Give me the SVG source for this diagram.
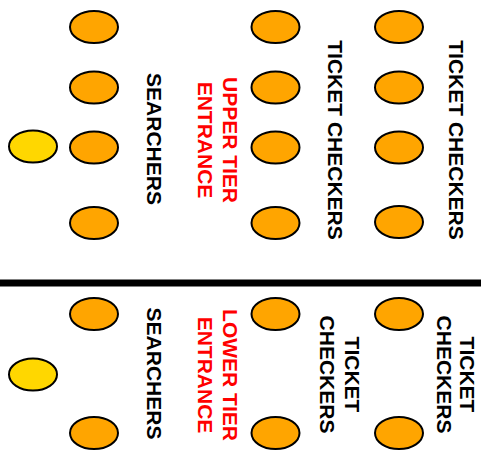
<svg xmlns="http://www.w3.org/2000/svg" width="481" height="454" viewBox="0 0 481 454">
<style>
.o{fill:#FFA500;stroke:#000;stroke-width:2}
.y{fill:#FFD700;stroke:#000;stroke-width:2}
.t{font-family:"Liberation Sans",Arial,sans-serif;font-weight:bold;font-size:21px;text-anchor:middle}
.k{fill:#000}
.r{fill:#FF0000}
</style>
<rect width="481" height="454" fill="#fff"/>
<g id="connectors">
<line x1="0" y1="283" x2="481" y2="283" stroke="#000" stroke-width="7"/>
</g>
<g id="upper-searchers">
<ellipse class="o" cx="94" cy="27" rx="24" ry="16"/>
<ellipse class="o" cx="94" cy="87.5" rx="24" ry="16"/>
<ellipse class="o" cx="94" cy="147.5" rx="24" ry="16"/>
<ellipse class="o" cx="94" cy="223" rx="24" ry="16"/>
<ellipse class="y" cx="33" cy="146.5" rx="24" ry="16"/>
<text class="t k" transform="translate(147,139) rotate(90)">SEARCHERS</text>
</g>
<g id="upper-entrance">
<text class="t r" transform="translate(223,140) rotate(90)">UPPER TIER</text>
<text class="t r" transform="translate(198,140) rotate(90)">ENTRANCE</text>
</g>
<g id="upper-checkers-1">
<ellipse class="o" cx="275.5" cy="27" rx="24" ry="16"/>
<ellipse class="o" cx="275.5" cy="87.5" rx="24" ry="16"/>
<ellipse class="o" cx="275.5" cy="147.5" rx="24" ry="16"/>
<ellipse class="o" cx="275.5" cy="223" rx="24" ry="16"/>
<text class="t k" transform="translate(328,140) rotate(90)">TICKET CHECKERS</text>
</g>
<g id="upper-checkers-2">
<ellipse class="o" cx="399" cy="27" rx="24" ry="16"/>
<ellipse class="o" cx="399" cy="87.5" rx="24" ry="16"/>
<ellipse class="o" cx="399" cy="147.5" rx="24" ry="16"/>
<ellipse class="o" cx="399" cy="222" rx="24" ry="16"/>
<text class="t k" transform="translate(449,140) rotate(90)">TICKET CHECKERS</text>
</g>
<g id="lower-searchers">
<ellipse class="o" cx="94" cy="314" rx="24" ry="16"/>
<ellipse class="o" cx="94" cy="433" rx="24" ry="16"/>
<ellipse class="y" cx="33" cy="374.5" rx="24" ry="16"/>
<text class="t k" transform="translate(147,373.5) rotate(90)">SEARCHERS</text>
</g>
<g id="lower-entrance">
<text class="t r" transform="translate(223,375) rotate(90)">LOWER TIER</text>
<text class="t r" transform="translate(198,375) rotate(90)">ENTRANCE</text>
</g>
<g id="lower-checkers-1">
<ellipse class="o" cx="275.5" cy="314" rx="24" ry="16"/>
<ellipse class="o" cx="275.5" cy="433" rx="24" ry="16"/>
<text class="t k" transform="translate(345,374.5) rotate(90)">TICKET</text>
<text class="t k" transform="translate(320,374.5) rotate(90)">CHECKERS</text>
</g>
<g id="lower-checkers-2">
<ellipse class="o" cx="399" cy="314" rx="24" ry="16"/>
<ellipse class="o" cx="399" cy="433" rx="24" ry="16"/>
<text class="t k" transform="translate(460,374.5) rotate(90)">TICKET</text>
<text class="t k" transform="translate(437,374.5) rotate(90)">CHECKERS</text>
</g>
</svg>
